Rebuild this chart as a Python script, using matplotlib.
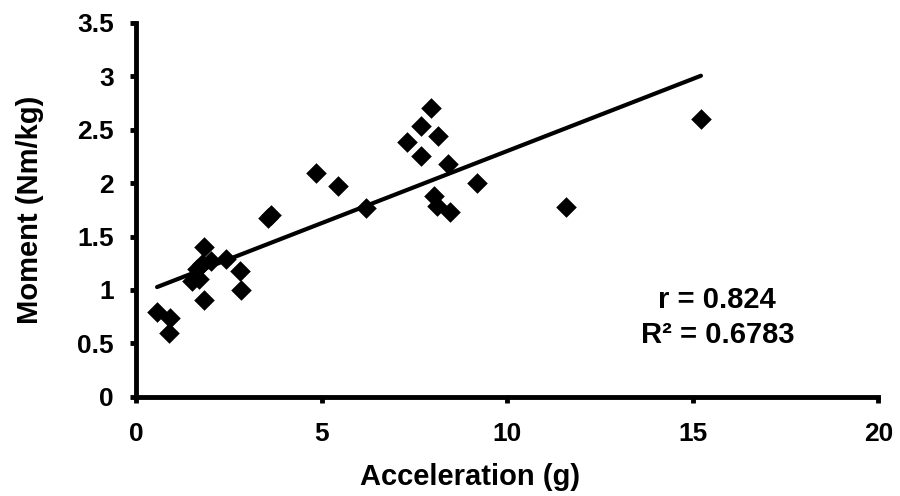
import matplotlib.pyplot as plt

plt.rcParams['font.family'] = ['Liberation Sans', 'DejaVu Sans']
plt.rcParams['font.weight'] = 'bold'

# accelerations (g) and moments (Nm/kg)
accel = [0.57, 0.89, 0.92, 1.51, 1.65, 1.70, 1.78, 1.84, 1.84, 2.02,
         2.43, 2.81, 2.83, 3.55, 3.65, 4.86, 5.45, 6.21, 7.29, 7.67,
         7.69, 7.96, 8.04, 8.12, 8.15, 8.42, 8.45, 9.20, 11.58, 15.22]
moment = [0.79, 0.60, 0.74, 1.08, 1.20, 1.10, 1.24, 1.40, 0.91, 1.27,
          1.29, 1.18, 1.00, 1.67, 1.70, 2.09, 1.97, 1.77, 2.38, 2.53,
          2.25, 2.70, 1.88, 1.79, 2.44, 2.18, 1.73, 2.00, 1.78, 2.60]

# trend line
slope = 0.135
intercept = 0.95
r_text = 'r = 0.824'
r2_text = 'R² = 0.6783'

fig = plt.figure(figsize=(9, 4.96), dpi=100)
ax = fig.add_axes([0.151, 0.2, 0.825, 0.754])

ax.scatter(accel, moment, marker='D', s=110, color='black', zorder=3, linewidths=0,
           clip_on=False)
x_line = [min(accel), max(accel)]
y_line = [intercept + slope * x for x in x_line]
ax.plot(x_line, y_line, color='black', lw=3, solid_capstyle='round', zorder=2)

ax.set_xlim(0, 20)
ax.set_ylim(0, 3.5)
ax.set_xticks([0, 5, 10, 15, 20])
ax.set_yticks([0, 0.5, 1, 1.5, 2, 2.5, 3, 3.5])
ax.set_yticklabels(['0', '0.5', '1', '1.5', '2', '2.5', '3', '3.5'])

for side in ['top', 'right']:
    ax.spines[side].set_visible(False)
for side in ['left', 'bottom']:
    ax.spines[side].set_linewidth(3.5)
ax.tick_params(direction='out', length=4, width=3.5, labelsize=19)
ax.tick_params(axis='y', pad=12)
ax.tick_params(axis='x', pad=14)

ax.set_xlabel('Acceleration (g)', fontsize=21, fontweight='bold')
ax.xaxis.set_label_coords(0.45, -0.178)
ax.set_ylabel('Moment (Nm/kg)', fontsize=21, fontweight='bold', labelpad=24)

fig.text(0.797, 0.395, r_text, ha='center', va='center', fontsize=21, fontweight='bold')
fig.text(0.797, 0.325, r2_text, ha='center', va='center', fontsize=21, fontweight='bold')

fig.savefig('out.png', dpi=100)
